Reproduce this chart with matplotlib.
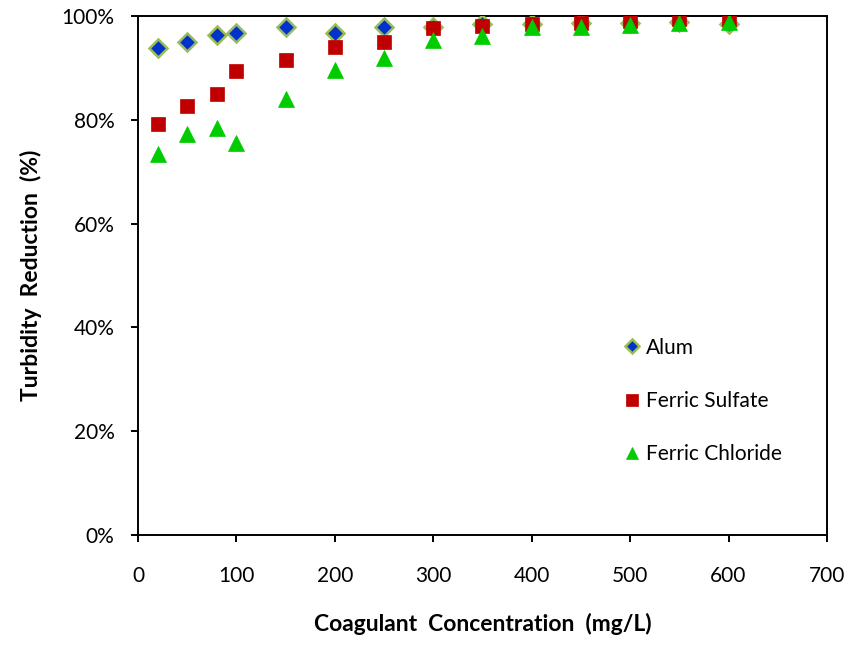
import matplotlib
matplotlib.use("Agg")
import matplotlib.pyplot as plt
from matplotlib.ticker import FuncFormatter, MultipleLocator

plt.rcParams['font.family'] = ['Lato', 'DejaVu Sans']

conc = [20, 50, 80, 100, 150, 200, 250, 300, 350, 400, 450, 500, 550, 600]
alum = [93.8, 95.0, 96.4, 96.7, 97.8, 96.7, 97.8, 97.9, 98.4, 98.5, 98.6, 98.6, 98.8, 98.5]
ferric_sulfate = [79.2, 82.7, 84.9, 89.4, 91.6, 94.0, 94.9, 97.6, 98.1, 98.4, 98.7, 99.0, 99.5, 99.5]
ferric_chloride = [73.4, 77.3, 78.4, 75.5, 84.0, 89.6, 92.0, 95.3, 96.2, 97.8, 97.8, 98.2, 98.7, 98.8]

fig = plt.figure(figsize=(8.53, 6.47), dpi=100)
ax = fig.add_axes([0.1618, 0.1731, 0.8077, 0.8022])

ax.plot(conc, alum, linestyle='none', marker='D', markersize=9.5,
        markerfacecolor='#0033CC', markeredgecolor='#9BBB59', markeredgewidth=1.8,
        label='Alum', zorder=3)
ax.plot(conc, ferric_sulfate, linestyle='none', marker='s', markersize=10,
        markerfacecolor='#C00000', markeredgecolor='#C00000', markeredgewidth=0.5,
        label='Ferric Sulfate', zorder=4)
ax.plot(conc, ferric_chloride, linestyle='none', marker='^', markersize=11,
        markerfacecolor='#00CC00', markeredgecolor='#00CC00', markeredgewidth=0.5,
        label='Ferric Chloride', zorder=5)

ax.set_xlim(0, 700)
ax.set_ylim(0, 100)
ax.xaxis.set_major_locator(MultipleLocator(100))
ax.yaxis.set_major_locator(MultipleLocator(20))
ax.yaxis.set_major_formatter(FuncFormatter(lambda v, p: f"{int(round(v))}%"))

for s in ax.spines.values():
    s.set_linewidth(1.4)
    s.set_color('black')
ax.tick_params(direction='out', length=5, width=1.4, labelsize=15, colors='black')
ax.tick_params(axis='x', pad=17)
ax.tick_params(axis='y', pad=12)

ax.set_xlabel('Coagulant  Concentration  (mg/L)', fontsize=16.5, fontweight='bold', labelpad=20)
ax.set_ylabel('Turbidity  Reduction  (%)', fontsize=16.5, fontweight='bold', labelpad=14)

leg = ax.legend(loc='center left', bbox_to_anchor=(0.674, 0.258), frameon=False,
                fontsize=15, labelspacing=1.6, handletextpad=0.2, handlelength=1.0,
                markerscale=0.8)

fig.savefig('out.png', dpi=100)
